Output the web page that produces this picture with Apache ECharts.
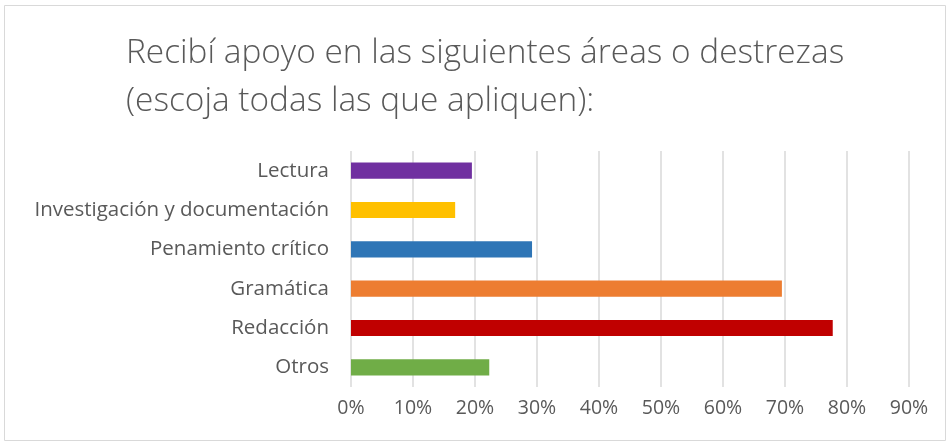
<!DOCTYPE html>
<html>
<head>
<meta charset="utf-8">
<script src="https://cdn.jsdelivr.net/npm/echarts@6/dist/echarts.min.js"></script>
<style>
  html, body { margin: 0; padding: 0; background: #fff; }
  #container { width: 948px; height: 444px; }
</style>
</head>
<body>
<div id="container"></div>
<script>
// categorias de abajo hacia arriba (el eje de categorias empieza abajo)
const categories = ['Otros', 'Redacción', 'Gramática', 'Penamiento crítico', 'Investigación y documentación', 'Lectura'];
const values = [22.3, 77.7, 69.5, 29.2, 16.8, 19.5];
const barColors = ['#70ad47', '#c00000', '#ed7d31', '#2e75b6', '#ffc000', '#7030a0'];
const tickMax = 90;

let dom = document.getElementById('container');
let myChart = echarts.init(dom);

let option = {
    animation: false,
    title: {
        text: 'Recibí apoyo en las siguientes áreas o destrezas\n(escoja todas las que apliquen):',
        left: 121,
        top: 24,
        textStyle: {
            fontFamily: 'Open Sans',
            fontWeight: 300,
            fontSize: 33.4,
            lineHeight: 48,
            color: '#595959'
        }
    },
    graphic: [{
        type: 'rect',
        shape: { x: 4.5, y: 5.5, width: 941, height: 435 },
        style: { fill: 'none', stroke: '#d9d9d9', lineWidth: 1 },
        silent: true
    }],
    grid: {
        left: 351,
        right: 39,
        top: 151,
        bottom: 57
    },
    xAxis: {
        type: 'value',
        min: 0,
        max: tickMax,
        interval: 10,
        axisLine: { show: false },
        axisTick: { show: false },
        splitLine: { lineStyle: { color: '#d9d9d9', width: 1.5 } },
        axisLabel: {
            formatter: '{value}%',
            color: '#595959',
            fontFamily: 'Open Sans',
            fontSize: 19.5,
            margin: 11
        }
    },
    yAxis: {
        type: 'category',
        data: categories,
        axisLine: { show: false },
        axisTick: { show: false },
        axisLabel: {
            color: '#595959',
            fontFamily: 'Open Sans',
            fontSize: 20.5,
            margin: 22
        }
    },
    series: [{
        type: 'bar',
        data: values.map((v, i) => ({ value: v, itemStyle: { color: barColors[i] } })),
        barCategoryGap: '59%'
    }]
};

myChart.setOption(option);
</script>
</body>
</html>
